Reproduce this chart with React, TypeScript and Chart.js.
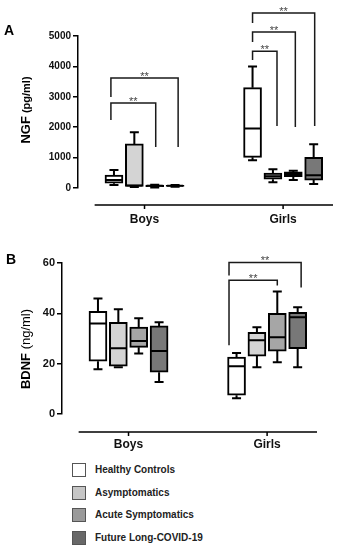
import React, { useEffect, useRef } from 'react';
import { Chart, registerables } from 'chart.js';

Chart.register(...registerables);

const FONT = "'Liberation Sans', Arial, sans-serif";

const categories = ['Boys', 'Girls'];
const groupNames = ['Healthy Controls', 'Asymptomatics', 'Acute Symptomatics', 'Future Long-COVID-19'];
const boxFills = ['#ffffff', '#d4d4d4', '#a6a6a6', '#787878'];
const legendFills = ['#ffffff', '#c6c6c6', '#9a9a9a', '#686868'];

// NGF (pg/ml): [min, q1, median, q3, max] for Boys, Girls
const ngfHealthy = [[100, 160, 260, 425, 590], [915, 1010, 1960, 3300, 4000]];
const ngfAsymptomatic = [[30, 50, 80, 1450, 1830], [190, 290, 390, 490, 620]];
const ngfAcute = [[20, 40, 70, 100, 110], [260, 370, 460, 530, 570]];
const ngfLongCovid = [[40, 50, 70, 90, 100], [130, 260, 420, 1010, 1440]];

// BDNF (ng/ml): [min, q1, median, q3, max] for Boys, Girls
const bdnfHealthy = [[17.8, 21, 36, 40.8, 45.9], [6.3, 7.5, 19, 22.6, 24.2]];
const bdnfAsymptomatic = [[18.6, 19, 26.1, 36.4, 41.6], [18.6, 23, 29.3, 32.5, 34.5]];
const bdnfAcute = [[24, 26.5, 29, 34.5, 38], [20.6, 25, 30.5, 40, 48.7]];
const bdnfLongCovid = [[12.7, 16.6, 25, 35, 36.5], [18.6, 26, 38.4, 40.4, 42.4]];

const ngfMax = 5000;
const ngfStep = 1000;
const bdnfMax = 60;
const bdnfStep = 20;

// significance brackets: [category, fromGroup, toGroup, topValue, leftEndValue, rightEndValue]
const ngfBrackets = [
  [0, -0.15, 2.05, 2800, 2240, 1350],
  [0, -0.15, 3.15, 3620, 2990, 1350],
  [1, 0, 1.2, 4500, 4210, 2040],
  [1, 0, 2.1, 5130, 4800, 2010],
  [1, 0, 3.05, 5760, 5430, 2040],
];
const bdnfBrackets = [
  [1, -0.37, 2, 53.1, 27.3, 51.1],
  [1, -0.37, 3.17, 60.2, 55, 50.3],
];
const sigLabel = '**';

const SLOT = 0.147;
const pos = (cat: number, group: number) => cat + (group - 1.5) * SLOT;

type Spec = {
  series: number[][][];
  yMax: number;
  yStep: number;
  yAxisWidth: number;
  padTop: number;
  padRight: number;
  xAxisHeight: number;
  tickFont: number;
  labelOffset: number;
  axisGap: number;
  brackets: number[][];
  letter: string;
  letterX: number;
  letterY: number;
  titleParts: { text: string; font: string }[];
  titleX: number;
  titleY: number;
};

function makeChart(canvas: HTMLCanvasElement, spec: Spec) {
  const datasets = spec.series.map((stats, g) => ({
    label: groupNames[g],
    data: stats.map((s, c) => ({ x: pos(c, g), y: [s[1], s[3]] })),
    backgroundColor: boxFills[g],
    borderColor: '#000',
    borderWidth: 2,
    borderSkipped: false,
    barThickness: 18,
    grouped: false,
  }));

  const deco = {
    id: 'deco',
    afterDatasetsDraw(chart: any) {
      const ctx = chart.ctx;
      const ys = chart.scales.y;
      ctx.save();
      ctx.strokeStyle = '#000';
      ctx.lineWidth = 2;
      chart.data.datasets.forEach((_ds: any, i: number) => {
        const meta = chart.getDatasetMeta(i);
        meta.data.forEach((bar: any, j: number) => {
          const s = spec.series[i][j];
          const { x, width } = bar.getProps(['x', 'width'], true);
          const hw = width / 2;
          const cap = 4.5;
          const pMin = ys.getPixelForValue(s[0]);
          const pQ1 = ys.getPixelForValue(s[1]);
          const pMed = ys.getPixelForValue(s[2]);
          const pQ3 = ys.getPixelForValue(s[3]);
          const pMax = ys.getPixelForValue(s[4]);
          ctx.beginPath();
          ctx.moveTo(x, pQ3);
          ctx.lineTo(x, pMax);
          ctx.moveTo(x - cap, pMax);
          ctx.lineTo(x + cap, pMax);
          ctx.moveTo(x, pQ1);
          ctx.lineTo(x, pMin);
          ctx.moveTo(x - cap, pMin);
          ctx.lineTo(x + cap, pMin);
          ctx.moveTo(x - hw + 1, pMed);
          ctx.lineTo(x + hw - 1, pMed);
          ctx.stroke();
        });
      });
      ctx.restore();
    },
    afterDraw(chart: any) {
      const ctx = chart.ctx;
      const xs = chart.scales.x;
      const ys = chart.scales.y;
      const area = chart.chartArea;
      ctx.save();
      // x axis line (detached)
      const axY = area.bottom + spec.axisGap;
      ctx.strokeStyle = '#000';
      ctx.lineWidth = 1.5;
      ctx.beginPath();
      ctx.moveTo(xs.getPixelForValue(-0.36), axY);
      ctx.lineTo(area.right, axY);
      categories.forEach((_c, i) => {
        const px = xs.getPixelForValue(i);
        ctx.moveTo(px, axY);
        ctx.lineTo(px, axY + 4);
      });
      ctx.stroke();
      // significance brackets
      ctx.strokeStyle = '#1a1a1a';
      ctx.lineWidth = 1.5;
      spec.brackets.forEach((b) => {
        const xl = xs.getPixelForValue(pos(b[0], b[1]));
        const xr = xs.getPixelForValue(pos(b[0], b[2]));
        const yt = ys.getPixelForValue(b[3]);
        const yl = ys.getPixelForValue(b[4]);
        const yr = ys.getPixelForValue(b[5]);
        ctx.beginPath();
        ctx.moveTo(xl, yl);
        ctx.lineTo(xl, yt);
        ctx.lineTo(xr, yt);
        ctx.lineTo(xr, yr);
        ctx.stroke();
        ctx.fillStyle = '#444';
        ctx.font = `11px ${FONT}`;
        ctx.textAlign = 'center';
        ctx.textBaseline = 'alphabetic';
        ctx.fillText(sigLabel, (xl + xr) / 2, yt + 2);
      });
      // panel letter
      ctx.fillStyle = '#000';
      ctx.font = `bold 14px ${FONT}`;
      ctx.textAlign = 'left';
      ctx.textBaseline = 'alphabetic';
      ctx.fillText(spec.letter, spec.letterX, spec.letterY);
      // y axis title (mixed fonts, rotated)
      ctx.translate(spec.titleX, spec.titleY);
      ctx.rotate(-Math.PI / 2);
      let total = 0;
      spec.titleParts.forEach((p) => {
        ctx.font = p.font;
        total += ctx.measureText(p.text).width;
      });
      let cx = -total / 2;
      spec.titleParts.forEach((p) => {
        ctx.font = p.font;
        ctx.fillText(p.text, cx, 0);
        cx += ctx.measureText(p.text).width;
      });
      ctx.restore();
    },
  };

  return new Chart(canvas, {
    type: 'bar',
    data: { datasets },
    plugins: [deco],
    options: {
      animation: false,
      responsive: false,
      layout: { padding: { top: spec.padTop, right: spec.padRight, left: 0, bottom: 0 } },
      plugins: { legend: { display: false }, tooltip: { enabled: false } },
      scales: {
        x: {
          type: 'linear',
          min: -0.48,
          max: 1.36,
          offset: false,
          grid: { display: true, drawOnChartArea: false, drawTicks: true, tickLength: spec.labelOffset, color: 'rgba(0,0,0,0)' },
          border: { display: false },
          afterBuildTicks: (s: any) => {
            s.ticks = categories.map((_c, i) => ({ value: i }));
          },
          afterFit: (s: any) => {
            s.height = spec.xAxisHeight;
            s.paddingLeft = 0;
            s.paddingRight = 0;
          },
          ticks: {
            autoSkip: false,
            maxRotation: 0,
            padding: 0,
            color: '#111',
            font: { family: FONT, size: 12, weight: 'bold' },
            callback: (v: any) => categories[v as number] ?? '',
          },
        },
        y: {
          min: 0,
          max: spec.yMax,
          afterFit: (s: any) => {
            s.width = spec.yAxisWidth;
          },
          grid: { drawOnChartArea: false, drawTicks: true, tickLength: 5, color: '#000', lineWidth: 1.5 },
          border: { display: true, color: '#000', width: 1.5 },
          ticks: {
            stepSize: spec.yStep,
            padding: 2,
            color: '#111',
            font: { family: FONT, size: spec.tickFont, weight: 'bold' },
            callback: (v: any) => String(v),
          },
        },
      },
    } as any,
  });
}

export default function App() {
  const refA = useRef<HTMLCanvasElement>(null);
  const refB = useRef<HTMLCanvasElement>(null);

  useEffect(() => {
    const a = makeChart(refA.current!, {
      series: [ngfHealthy, ngfAsymptomatic, ngfAcute, ngfLongCovid],
      yMax: ngfMax,
      yStep: ngfStep,
      yAxisWidth: 78,
      padTop: 36,
      padRight: 5,
      xAxisHeight: 44,
      tickFont: 10,
      labelOffset: 24,
      axisGap: 17,
      brackets: ngfBrackets,
      letter: 'A',
      letterX: 4,
      letterY: 35,
      titleParts: [
        { text: 'NGF', font: `bold 13px ${FONT}` },
        { text: ' (pg/ml)', font: `bold 11px ${FONT}` },
      ],
      titleX: 30,
      titleY: 110,
    });
    const b = makeChart(refB.current!, {
      series: [bdnfHealthy, bdnfAsymptomatic, bdnfAcute, bdnfLongCovid],
      yMax: bdnfMax,
      yStep: bdnfStep,
      yAxisWidth: 62,
      padTop: 31,
      padRight: 21,
      xAxisHeight: 40,
      tickFont: 11,
      labelOffset: 23,
      axisGap: 18,
      brackets: bdnfBrackets,
      letter: 'B',
      letterX: 6,
      letterY: 32,
      titleParts: [
        { text: 'BDNF', font: `bold 13px ${FONT}` },
        { text: ' (ng/ml)', font: `13px ${FONT}` },
      ],
      titleX: 30,
      titleY: 117,
    });
    return () => {
      a.destroy();
      b.destroy();
    };
  }, []);

  return (
    <div style={{ position: 'absolute', left: 0, top: 0, width: 338, height: 550, background: '#fff', overflow: 'hidden' }}>
      <canvas ref={refA} width={338} height={232} style={{ position: 'absolute', left: 0, top: 0, width: 338, height: 232 }} />
      <canvas ref={refB} width={338} height={222} style={{ position: 'absolute', left: 0, top: 232, width: 338, height: 222 }} />
      {groupNames.map((name, i) => (
        <div key={name} style={{ position: 'absolute', left: 72, top: 463 + i * 22.5, height: 14, display: 'flex', alignItems: 'center' }}>
          <div style={{ width: 14, height: 14, boxSizing: 'border-box', border: '1.5px solid #555', background: legendFills[i] }} />
          <span style={{ marginLeft: 9, fontFamily: FONT, fontWeight: 'bold', fontSize: 10, color: '#222', lineHeight: '14px', whiteSpace: 'nowrap' }}>{name}</span>
        </div>
      ))}
    </div>
  );
}
